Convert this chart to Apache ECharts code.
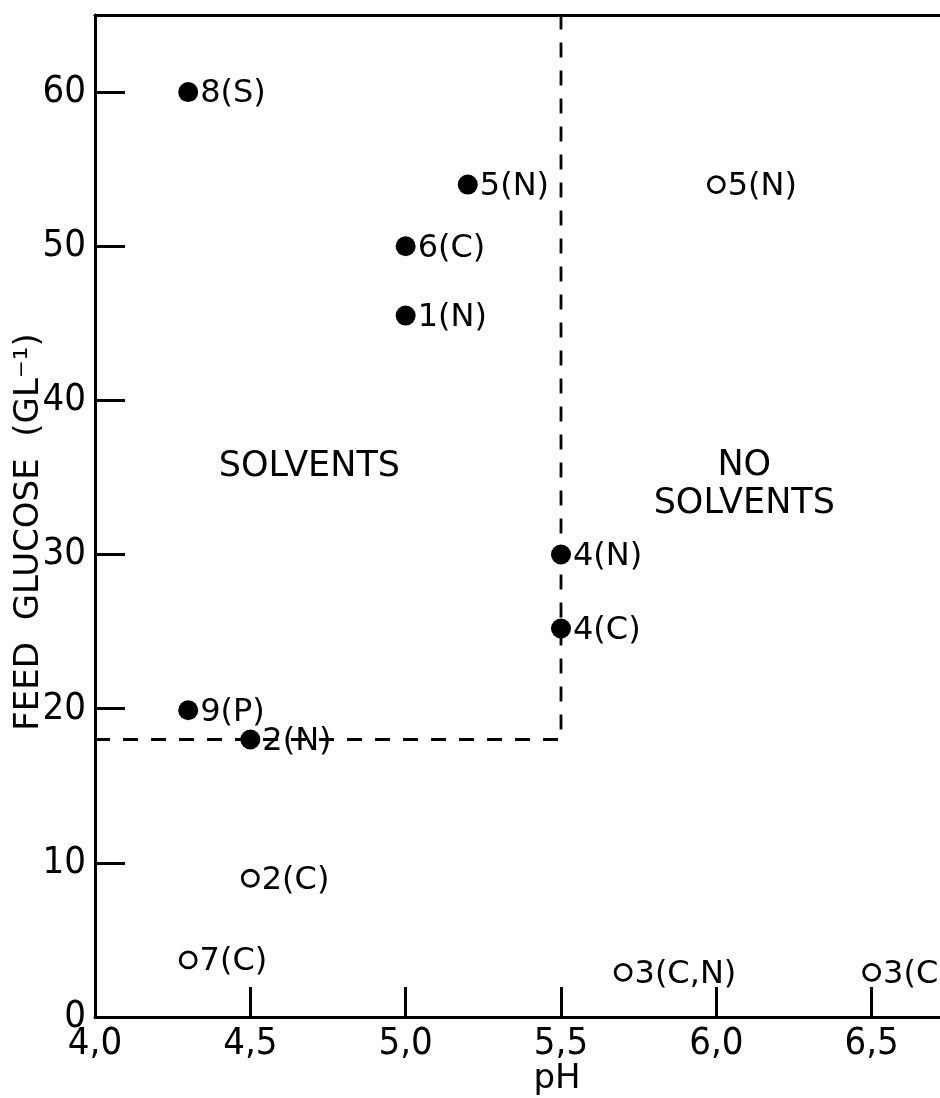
<!DOCTYPE html>
<html>
<head>
<meta charset="utf-8">
<script src="https://cdn.jsdelivr.net/npm/echarts@6/dist/echarts.min.js"></script>
<style>
  html, body { margin: 0; padding: 0; background: #fff; }
  #chart { width: 940px; height: 1098px; }
</style>
</head>
<body>
<div id="chart"></div>
<script>
// Fermentation runs that produced solvents (filled markers)
const solventPH      = [4.3, 5.2, 5.0, 5.0, 5.5, 5.5, 4.3, 4.5];
const solventGlucose = [60, 54, 50, 45.5, 30, 25.2, 19.9, 18];
const solventTags    = ['8(S)', '5(N)', '6(C)', '1(N)', '4(N)', '4(C)', '9(P)', '2(N)'];

// Runs that produced no solvents (open markers)
const noSolventPH      = [6.0, 4.5, 4.3, 5.7, 6.5];
const noSolventGlucose = [54, 9, 3.7, 2.9, 2.9];
const noSolventTags    = ['5(N)', '2(C)', '7(C)', '3(C,N)', '3(C)'];

// Boundary between the two regimes
const boundaryPH      = [4.0, 5.5, 5.5];
const boundaryGlucose = [18, 18, 65];

// Region captions
const regionTexts   = ['SOLVENTS', 'NO\nSOLVENTS'];
const regionPH      = [4.69, 6.09];
const regionGlucose = [35.7, 34.5];

// Axis ticks and their printed labels
const xTickValues = [4.0, 4.5, 5.0, 5.5, 6.0, 6.5];
const xTickLabels = ['4,0', '4,5', '5,0', '5,5', '6,0', '6,5'];
const yTickValues = [0, 10, 20, 30, 40, 50, 60];
const yTickLabels = ['0', '10', '20', '30', '40', '50', '60'];

const LABEL_FONT = '"DejaVu Sans", sans-serif';
const TICK_FONT = '"DejaVu Sans Condensed", sans-serif';

function lookup(values, labels, v) {
  const i = values.findIndex(t => Math.abs(t - v) < 1e-6);
  return i < 0 ? '' : labels[i];
}

const pairs = (xs, ys) => xs.map((x, i) => [x, ys[i]]);

const chart = echarts.init(document.getElementById('chart'), null, { renderer: 'canvas' });

const pointLabel = {
  show: true,
  position: 'right',
  distance: 2,
  offset: [0, 2],
  color: '#000',
  opacity: 1,
  fontFamily: LABEL_FONT,
  fontSize: 32,
  formatter: p => p.data.tag
};

chart.setOption({
  animation: false,
  backgroundColor: '#fff',
  grid: { left: 95, right: 0, top: 15, bottom: 81, containLabel: false },
  xAxis: [{
    type: 'value',
    min: 4,
    max: 6.72,
    interval: 0.5,
    axisLine: { show: true, onZero: false, lineStyle: { color: '#000', width: 3 } },
    axisTick: {
      show: true, inside: true, length: 30,
      customValues: xTickValues.slice(1),
      lineStyle: { color: '#000', width: 3 }
    },
    axisLabel: {
      show: true, margin: 8, color: '#000',
      fontFamily: TICK_FONT, fontSize: 38,
      customValues: xTickValues,
      formatter: v => lookup(xTickValues, xTickLabels, v)
    },
    splitLine: { show: false }
  }, {
    type: 'value',
    position: 'top',
    min: 4,
    max: 6.72,
    axisLine: { show: true, onZero: false, lineStyle: { color: '#000', width: 3 } },
    axisTick: { show: false },
    axisLabel: { show: false },
    splitLine: { show: false }
  }],
  yAxis: {
    type: 'value',
    min: 0,
    max: 65,
    interval: 10,
    axisLine: { show: true, onZero: false, lineStyle: { color: '#000', width: 3 } },
    axisTick: {
      show: true, inside: true, length: 30,
      customValues: yTickValues.slice(1),
      lineStyle: { color: '#000', width: 3 }
    },
    axisLabel: {
      show: true, margin: 9, color: '#000',
      fontFamily: TICK_FONT, fontSize: 38,
      customValues: yTickValues,
      formatter: v => lookup(yTickValues, yTickLabels, v)
    },
    splitLine: { show: false }
  },
  graphic: [{
    type: 'text',
    x: 29, y: 532,
    rotation: Math.PI / 2,
    style: {
      text: 'FEED  GLUCOSE  (GL\u207B\u00B9)',
      fill: '#000',
      font: '34px "DejaVu Sans", sans-serif',
      align: 'center',
      verticalAlign: 'middle'
    }
  }, {
    type: 'text',
    x: 557, y: 1079,
    style: {
      text: 'pH',
      fill: '#000',
      font: '34px "DejaVu Sans", sans-serif',
      align: 'center',
      verticalAlign: 'middle'
    }
  }],
  series: [{
    name: 'solvents',
    type: 'scatter',
    symbol: 'circle',
    symbolSize: 20,
    itemStyle: { color: '#000', opacity: 1 },
    label: pointLabel,
    data: pairs(solventPH, solventGlucose).map((v, i) => ({ value: v, tag: solventTags[i] }))
  }, {
    name: 'no solvents',
    type: 'scatter',
    symbol: 'circle',
    symbolSize: 16,
    itemStyle: { color: '#fff', borderColor: '#000', borderWidth: 2.8, opacity: 1 },
    label: pointLabel,
    data: pairs(noSolventPH, noSolventGlucose).map((v, i) => ({ value: v, tag: noSolventTags[i] }))
  }, {
    name: 'regions',
    type: 'scatter',
    symbolSize: 1,
    itemStyle: { color: 'transparent', opacity: 1 },
    silent: true,
    label: {
      show: true,
      position: 'inside',
      color: '#000',
      opacity: 1,
      fontFamily: LABEL_FONT,
      fontSize: 35,
      lineHeight: 38,
      align: 'center',
      formatter: p => p.data.text
    },
    data: pairs(regionPH, regionGlucose).map((v, i) => ({ value: v, text: regionTexts[i] }))
  }, {
    name: 'boundary',
    type: 'line',
    z: 5,
    symbol: 'none',
    lineStyle: { color: '#000', width: 2.8, type: [15, 13], opacity: 1 },
    data: pairs(boundaryPH, boundaryGlucose)
  }]
});
</script>
</body>
</html>
